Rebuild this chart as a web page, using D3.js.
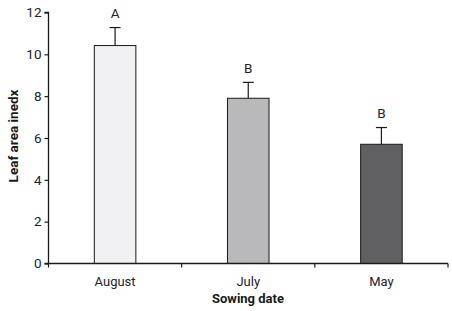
<!DOCTYPE html>
<html><head><meta charset="utf-8">
<script src="https://cdn.jsdelivr.net/npm/d3@7"></script>
<style>
body{margin:0;background:#fff;}
text{font-family:Roboto,"Liberation Sans Narrow",sans-serif;}
</style></head>
<body><svg id="c" width="452" height="311"></svg>
<script>
const categories = ["August", "July", "May"];
const values = [10.42, 7.9, 5.7];
const errors = [0.86, 0.76, 0.8];
const letters = ["A", "B", "B"];
const yTicks = [0, 2, 4, 6, 8, 10, 12];
const fills = ["#f1f1f3", "#b9b9bb", "#606062"];

const svg = d3.select("#c");
const x = d3.scaleBand().domain(categories).range([48.5, 448]).paddingInner(0.688).paddingOuter(0.344);
const y = d3.scaleLinear().domain([0, 12]).range([263.5, 12.5]);
const ink = "#1a1a1a";
const tc = "#222233";

// bars
svg.selectAll("rect.bar").data(categories).join("rect")
  .attr("x", d => x(d)).attr("width", x.bandwidth())
  .attr("y", (d,i) => y(values[i])).attr("height", (d,i) => y(0) - y(values[i]))
  .attr("fill", (d,i) => fills[i]).attr("stroke", ink).attr("stroke-width", 1);

// error bars
const g = svg.append("g").attr("stroke", ink).attr("stroke-width", 1.2);
categories.forEach((c, i) => {
  const cx = x(c) + x.bandwidth() / 2;
  g.append("line").attr("x1", cx).attr("x2", cx).attr("y1", y(values[i])).attr("y2", y(values[i] + errors[i]));
  g.append("line").attr("x1", cx - 5.5).attr("x2", cx + 5.5).attr("y1", y(values[i] + errors[i])).attr("y2", y(values[i] + errors[i]));
  svg.append("text").attr("x", cx).attr("y", y(values[i] + errors[i]) - 9.5)
    .attr("text-anchor", "middle").attr("font-size", 13.5).attr("fill", tc).text(letters[i]);
});

// y axis
const yAxis = svg.append("g").attr("transform", "translate(48.5,0)")
  .call(d3.axisLeft(y).tickValues(yTicks).tickSize(4).tickPadding(3));
yAxis.select(".domain").attr("stroke", ink).attr("stroke-width", 1.3).attr("d", "M-4," + y(12) + "H0V" + y(0));
yAxis.selectAll(".tick line").attr("stroke", ink).attr("stroke-width", 1.2);
yAxis.selectAll("text").attr("font-size", 13.5).attr("fill", tc)
  .attr("font-family", "Roboto,sans-serif");

// x axis
const xs = d3.scalePoint().domain([0,1,2,3]).range([48.5, 448]);
const xAxis = svg.append("g").attr("transform", "translate(0," + y(0) + ")");
xAxis.append("line").attr("x1", 44.5).attr("x2", 448).attr("stroke", ink).attr("stroke-width", 1.3);
xAxis.selectAll("line.t").data(xs.domain()).join("line")
  .attr("x1", d => xs(d)).attr("x2", d => xs(d)).attr("y1", 0).attr("y2", 4)
  .attr("stroke", ink).attr("stroke-width", 1.2);
xAxis.selectAll("text.l").data(categories).join("text")
  .attr("x", d => x(d) + x.bandwidth() / 2).attr("y", 22)
  .attr("text-anchor", "middle").attr("font-size", 13).attr("fill", tc).text(d => d);

// titles
svg.append("text").attr("x", 248).attr("y", 303).attr("text-anchor", "middle")
  .attr("font-size", 13).attr("font-weight", "bold").attr("fill", "#1a1a1a").text("Sowing date");
svg.append("text").attr("transform", "translate(18,136) rotate(-90)").attr("text-anchor", "middle")
  .attr("font-size", 13.5).attr("font-weight", "bold").attr("fill", "#1a1a1a").text("Leaf area inedx");
</script></body></html>
